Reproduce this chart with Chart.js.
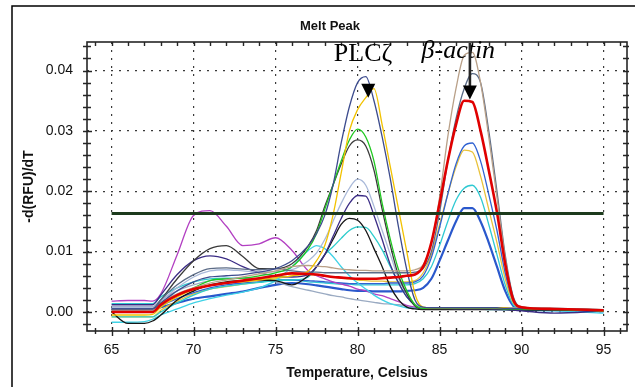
<!DOCTYPE html>
<html lang="en">
<head>
    <meta charset="UTF-8">
    <title>Melt Peak</title>
    <style>
        body {
            margin: 0;
            padding: 0;
            background-color: #ffffff;
        }

        .chart-container {
            width: 635px;
            height: 387px;
            position: relative;
        }
    </style>
    <script src="https://cdn.jsdelivr.net/npm/chart.js"></script>
</head>
<body>
    <div class="chart-container">
        <canvas id="meltChart" width="635" height="387"></canvas>
    </div>

    <script>
        // temperatures (Celsius) shared by every curve
        const temps = [65, 66, 67, 67.5, 68, 69, 70, 71, 72, 73, 74, 75, 76, 77, 77.5,
            78, 78.5, 79, 79.5, 80, 80.5, 81, 81.5, 82, 82.5, 83, 83.5, 84, 84.5, 85,
            85.5, 86, 86.5, 87, 87.5, 88, 88.5, 89, 89.5, 90, 92, 95];

        // -d(RFU)/dT, PLCζ product curves
        const plcNavy = [0.0005, 0.0005, 0.0005, 0.0005, 0.0015, 0.0035, 0.005, 0.0058, 0.006, 0.0062, 0.0066, 0.0072, 0.0085, 0.011, 0.013,
            0.016, 0.021, 0.028, 0.034, 0.038, 0.039, 0.035, 0.029, 0.022, 0.014, 0.007, 0.002, 0.0008, 0.0007, 0.0007,
            0.0007, 0.0007, 0.0007, 0.0007, 0.0007, 0.0007, 0.0007, 0.0006, 0.0006, 0.0006, 0.0005, 0.0003];
        const plcGold = [-0.0005, -0.0005, -0.0005, -0.0004, 0.0008, 0.0025, 0.0037, 0.0044, 0.0048, 0.005, 0.0053, 0.0057, 0.006, 0.0068, 0.0085,
            0.011, 0.016, 0.023, 0.030, 0.0335, 0.0355, 0.037, 0.031, 0.024, 0.017, 0.010, 0.003, 0.0008, 0.0007, 0.0007,
            0.0007, 0.0007, 0.0007, 0.0007, 0.0007, 0.0007, 0.0007, 0.0007, 0.0006, 0.0006, 0.0005, 0.0002];
        const plcGreen = [0.0, 0.0, 0.0, 0.0, 0.0012, 0.0028, 0.004, 0.0052, 0.0055, 0.0056, 0.006, 0.0065, 0.0075, 0.0105, 0.013,
            0.017, 0.021, 0.025, 0.0285, 0.0303, 0.029, 0.025, 0.018, 0.012, 0.007, 0.0035, 0.0012, 0.0006, 0.0006, 0.0006,
            0.0006, 0.0006, 0.0006, 0.0006, 0.0006, 0.0006, 0.0006, 0.0005, 0.0005, 0.0005, 0.0004, 0.0002];
        const plcDarkGray = [0.0004, 0.0004, 0.0004, 0.0005, 0.002, 0.0055, 0.0085, 0.0105, 0.011, 0.0092, 0.0072, 0.0072, 0.008, 0.011, 0.0135,
            0.0175, 0.021, 0.0245, 0.0275, 0.0285, 0.0275, 0.0235, 0.017, 0.011, 0.006, 0.003, 0.001, 0.0005, 0.0005, 0.0005,
            0.0005, 0.0005, 0.0005, 0.0005, 0.0005, 0.0005, 0.0005, 0.0005, 0.0005, 0.0005, 0.0004, 0.0003];
        const plcSteel = [0.0008, 0.0008, 0.0008, 0.0008, 0.0018, 0.004, 0.0058, 0.0068, 0.007, 0.0068, 0.0066, 0.0067, 0.007, 0.0085, 0.0098,
            0.012, 0.015, 0.018, 0.0205, 0.022, 0.021, 0.0175, 0.0135, 0.0095, 0.0055, 0.003, 0.0013, 0.0007, 0.0007, 0.0007,
            0.0007, 0.0007, 0.0007, 0.0007, 0.0007, 0.0007, 0.0007, 0.0007, 0.0007, 0.0006, 0.0006, 0.0004];
        const plcIndigo = [0.0012, 0.0012, 0.0012, 0.0012, 0.0028, 0.0062, 0.0085, 0.0093, 0.0088, 0.0075, 0.0065, 0.006, 0.0058, 0.0062, 0.0075,
            0.0095, 0.0125, 0.0155, 0.018, 0.0193, 0.0192, 0.016, 0.012, 0.0078, 0.0048, 0.0025, 0.0012, 0.0006, 0.0006, 0.0006,
            0.0006, 0.0005, 0.0005, 0.0005, 0.0005, 0.0005, 0.0004, 0.0004, 0.0003, 0.0002, -0.0002, 0.0002];
        const plcBlack = [0.0, -0.0019, -0.0019, -0.0015, -0.0005, 0.002, 0.0035, 0.0045, 0.005, 0.0052, 0.0053, 0.0052, 0.0045, 0.006, 0.0075,
            0.0095, 0.012, 0.0145, 0.0155, 0.0152, 0.0135, 0.0105, 0.0075, 0.0042, 0.002, 0.0008, 0.0005, 0.0004, 0.0004, 0.0004,
            0.0004, 0.0004, 0.0004, 0.0004, 0.0004, 0.0004, 0.0004, 0.0004, 0.0003, 0.0003, 0.0003, 0.0002];
        const plcCyan = [-0.0008, -0.0008, -0.0008, -0.0008, 0.0, 0.0015, 0.0028, 0.0038, 0.0043, 0.0046, 0.0049, 0.0052, 0.0053, 0.0058, 0.0075,
            0.0095, 0.0108, 0.0122, 0.0135, 0.0141, 0.014, 0.0125, 0.0103, 0.0075, 0.0048, 0.0025, 0.0011, 0.0005, 0.0005, 0.0005,
            0.0005, 0.0005, 0.0005, 0.0005, 0.0005, 0.0005, 0.0005, 0.0004, 0.0004, 0.0004, 0.0004, 0.0001];
        const lowCyan = [-0.0017, -0.0017, -0.0016, -0.0012, -0.0005, 0.0005, 0.0015, 0.0022, 0.0028, 0.0033, 0.004, 0.0052, 0.0075, 0.0102, 0.011,
            0.0105, 0.0092, 0.0075, 0.006, 0.0048, 0.0038, 0.0028, 0.002, 0.0014, 0.001, 0.0007, 0.0006, 0.0005, 0.0005, 0.0005,
            0.0005, 0.0005, 0.0005, 0.0005, 0.0005, 0.0004, 0.0004, 0.0004, 0.0004, 0.0003, 0.0002, -0.0002];
        const dimerMagenta = [0.0018, 0.0019, 0.0019, 0.0018, 0.003, 0.0095, 0.016, 0.0168, 0.0142, 0.011, 0.0113, 0.0123, 0.0102, 0.0068, 0.006,
            0.0055, 0.005, 0.0046, 0.0043, 0.0038, 0.0035, 0.003, 0.0027, 0.0022, 0.0017, 0.0011, 0.0008, 0.0006, 0.0006, 0.0006,
            0.0006, 0.0006, 0.0006, 0.0006, 0.0006, 0.0006, 0.0006, 0.0006, 0.0005, 0.0005, 0.0005, 0.0003];
        const lowGray = [0.0009, 0.0009, 0.0009, 0.0009, 0.002, 0.0035, 0.0045, 0.0052, 0.0055, 0.0056, 0.0055, 0.005, 0.0042, 0.0036, 0.0033,
            0.003, 0.0027, 0.0025, 0.0022, 0.002, 0.0018, 0.0016, 0.0014, 0.0013, 0.0012, 0.0009, 0.0007, 0.0006, 0.0006, 0.0006,
            0.0006, 0.0006, 0.0006, 0.0006, 0.0006, 0.0006, 0.0006, 0.0005, 0.0005, 0.0005, 0.0005, 0.0003];

        // -d(RFU)/dT, beta-actin product curves
        const actTan = [0.0003, 0.0003, 0.0003, 0.0003, 0.0015, 0.003, 0.004, 0.0048, 0.0053, 0.0058, 0.0063, 0.0068, 0.0075, 0.0077, 0.0076,
            0.0075, 0.0073, 0.0071, 0.007, 0.0069, 0.0069, 0.0068, 0.0068, 0.0068, 0.0068, 0.0068, 0.007, 0.0078, 0.0115, 0.019,
            0.029, 0.037, 0.0425, 0.043, 0.038, 0.029, 0.019, 0.009, 0.002, 0.0009, 0.0006, 0.0004];
        const actSlate = [0.0005, 0.0005, 0.0005, 0.0005, 0.002, 0.0045, 0.0062, 0.0072, 0.0073, 0.0071, 0.007, 0.0072, 0.0068, 0.0066, 0.0066,
            0.0065, 0.0065, 0.0065, 0.0065, 0.0065, 0.0065, 0.0065, 0.0065, 0.0065, 0.0065, 0.0065, 0.0066, 0.0072, 0.010, 0.0165,
            0.025, 0.032, 0.037, 0.0395, 0.038, 0.030, 0.020, 0.0095, 0.0025, 0.0008, 0.0006, 0.0004];
        const actRed = [0.0, 0.0, 0.0, 0.0, 0.0012, 0.0028, 0.0038, 0.0044, 0.0048, 0.0052, 0.0056, 0.006, 0.0064, 0.0063, 0.0062,
            0.006, 0.0058, 0.0057, 0.0056, 0.0055, 0.0055, 0.0055, 0.0056, 0.0057, 0.0058, 0.006, 0.0062, 0.0075, 0.0115, 0.018,
            0.025, 0.031, 0.035, 0.0348, 0.030, 0.0235, 0.0165, 0.008, 0.002, 0.0008, 0.0005, 0.0003];
        const actBlue = [0.0003, 0.0003, 0.0003, 0.0003, 0.001, 0.0022, 0.0032, 0.004, 0.0045, 0.0048, 0.005, 0.0052, 0.0053, 0.0052, 0.0051,
            0.005, 0.0049, 0.0048, 0.0047, 0.0047, 0.0047, 0.0047, 0.0047, 0.0048, 0.0048, 0.0048, 0.005, 0.006, 0.009, 0.014,
            0.0195, 0.0245, 0.0275, 0.028, 0.025, 0.0195, 0.0135, 0.0065, 0.0018, 0.0007, 0.0005, 0.0003];
        const actYellow = [-0.0008, -0.0008, -0.0008, -0.0008, 0.0003, 0.0018, 0.003, 0.0038, 0.0042, 0.0046, 0.005, 0.0055, 0.006, 0.0062, 0.0061,
            0.006, 0.0058, 0.0056, 0.0055, 0.0053, 0.0052, 0.0051, 0.0051, 0.005, 0.005, 0.005, 0.0052, 0.0065, 0.0095, 0.0145,
            0.0195, 0.024, 0.0268, 0.0265, 0.0225, 0.017, 0.0115, 0.0055, 0.0015, 0.0007, 0.0005, 0.0001];
        const actCyan = [0.0014, 0.0014, 0.0014, 0.0014, 0.0025, 0.004, 0.005, 0.0055, 0.0056, 0.0056, 0.0055, 0.0054, 0.0053, 0.005, 0.0049,
            0.0048, 0.0047, 0.0046, 0.0046, 0.0045, 0.0045, 0.0045, 0.0045, 0.0045, 0.0045, 0.0045, 0.0047, 0.0055, 0.0075, 0.011,
            0.015, 0.0185, 0.0205, 0.021, 0.019, 0.0145, 0.0095, 0.0045, 0.0012, 0.0006, 0.0004, 0.0002];
        const actLowBlue = [0.0005, 0.0005, 0.0005, 0.0005, 0.0008, 0.0015, 0.0022, 0.0026, 0.003, 0.0034, 0.004, 0.0045, 0.0048, 0.0046, 0.0044,
            0.0042, 0.004, 0.0038, 0.0036, 0.0035, 0.0035, 0.0034, 0.0034, 0.0034, 0.0034, 0.0035, 0.0036, 0.004, 0.0055, 0.0085,
            0.0118, 0.015, 0.0172, 0.0172, 0.015, 0.0115, 0.0075, 0.0035, 0.001, 0.0005, 0.0003, 0.0001];

        // threshold line
        const thresholdLevel = 0.0163;
        const thresholdSpan = [65, 95];

        // axis ticks
        const xTicks = [65, 70, 75, 80, 85, 90, 95];
        const yTicks = [0.00, 0.01, 0.02, 0.03, 0.04];

        const curves = [
            { values: actRed, color: '#e00000', width: 2.6 },
            { values: plcNavy, color: '#3d4c8e', width: 1.3 },
            { values: plcGold, color: '#f2c200', width: 1.3 },
            { values: actTan, color: '#b9a088', width: 1.3 },
            { values: actSlate, color: '#5b6b86', width: 1.3 },
            { values: plcGreen, color: '#1fc81f', width: 1.3 },
            { values: plcDarkGray, color: '#3a3a3a', width: 1.3 },
            { values: plcSteel, color: '#a9b9d9', width: 1.3 },
            { values: plcIndigo, color: '#3b2c85', width: 1.3 },
            { values: plcBlack, color: '#161616', width: 1.3 },
            { values: plcCyan, color: '#2ccccc', width: 1.3 },
            { values: lowCyan, color: '#3fd2e6', width: 1.3 },
            { values: dimerMagenta, color: '#b23fc2', width: 1.3 },
            { values: lowGray, color: '#9aaac2', width: 1.3 },
            { values: actBlue, color: '#3062d2', width: 1.3 },
            { values: actYellow, color: '#e9c23a', width: 1.3 },
            { values: actCyan, color: '#2fc9d2', width: 1.3 },
            { values: actLowBlue, color: '#2a58cc', width: 2.2 }
        ];

        const datasets = [{
            data: thresholdSpan.map(t => ({ x: t, y: thresholdLevel })),
            borderColor: '#1c3a1c',
            borderWidth: 3,
            pointRadius: 0
        }];
        curves.forEach(c => {
            datasets.push({
                data: temps.map((t, i) => ({ x: t, y: c.values[i] })),
                borderColor: c.color,
                borderWidth: c.width,
                pointRadius: 0,
                cubicInterpolationMode: 'monotone'
            });
        });

        const textFont = "'Liberation Sans', Arial, sans-serif";
        const serifFont = "'Liberation Serif', 'Times New Roman', serif";

        // frame, minor ticks, title and the two labelled arrows
        const decorations = {
            id: 'decorations',
            beforeDraw(chart) {
                const ctx = chart.ctx;
                ctx.save();
                ctx.fillStyle = '#ffffff';
                ctx.fillRect(0, 0, chart.width, chart.height);
                ctx.restore();
            },
            afterDraw(chart) {
                const { ctx, chartArea: a, scales: { x, y } } = chart;
                ctx.save();

                // outer frame (left and top only)
                ctx.strokeStyle = '#000';
                ctx.lineWidth = 1.5;
                ctx.beginPath();
                ctx.moveTo(12, chart.height);
                ctx.lineTo(12, 6);
                ctx.lineTo(chart.width, 6);
                ctx.stroke();

                // plot box
                ctx.strokeStyle = '#262626';
                ctx.lineWidth = 1.6;
                ctx.strokeRect(a.left, a.top, a.right - a.left, a.bottom - a.top);

                // tick marks on all four sides
                ctx.lineWidth = 1.4;
                ctx.beginPath();
                for (let t = Math.ceil(x.min); t <= x.max; t++) {
                    const px = Math.round(x.getPixelForValue(t)) + 0.5;
                    const major = t % 5 === 0;
                    ctx.moveTo(px, a.bottom - (major ? 4 : 3));
                    ctx.lineTo(px, a.bottom + (major ? 5 : 3));
                    ctx.moveTo(px, a.top);
                    ctx.lineTo(px, a.top + 4);
                }
                for (let k = Math.ceil(y.min / 0.002); k * 0.002 <= y.max; k++) {
                    const py = Math.round(y.getPixelForValue(k * 0.002)) + 0.5;
                    const major = k % 5 === 0;
                    ctx.moveTo(a.left - 4, py);
                    ctx.lineTo(a.left + (major ? 5 : 4), py);
                    ctx.moveTo(a.right - 4, py);
                    ctx.lineTo(a.right + 2, py);
                }
                ctx.stroke();

                // chart title
                ctx.fillStyle = '#111';
                ctx.font = 'bold 13px ' + textFont;
                ctx.textAlign = 'center';
                ctx.textBaseline = 'middle';
                ctx.fillText('Melt Peak', 330, 26);

                // product labels
                ctx.textAlign = 'left';
                ctx.textBaseline = 'alphabetic';
                ctx.fillStyle = '#000';
                ctx.font = '26px ' + serifFont;
                ctx.fillText('PLCζ', x.getPixelForValue(78.55), 61);
                ctx.font = 'italic 26px ' + serifFont;
                ctx.fillText('β-actin', x.getPixelForValue(83.9), 58);

                // arrows
                const arrowHead = (tx, ty) => {
                    ctx.beginPath();
                    ctx.moveTo(tx, ty);
                    ctx.lineTo(tx - 7, ty - 14);
                    ctx.lineTo(tx + 7, ty - 14);
                    ctx.closePath();
                    ctx.fill();
                };
                const plcX = x.getPixelForValue(80.65);
                arrowHead(plcX, y.getPixelForValue(0.0355));
                const actX = x.getPixelForValue(86.85);
                const actTip = y.getPixelForValue(0.0352);
                ctx.lineWidth = 2.6;
                ctx.beginPath();
                ctx.moveTo(actX, a.top + 1);
                ctx.lineTo(actX, actTip - 12);
                ctx.stroke();
                arrowHead(actX, actTip);

                ctx.restore();
            }
        };

        const ctx = document.getElementById('meltChart').getContext('2d');

        new Chart(ctx, {
            type: 'line',
            data: { datasets: datasets },
            options: {
                responsive: false,
                animation: false,
                layout: {
                    padding: { top: 42, right: 8, left: 0, bottom: 0 }
                },
                plugins: {
                    legend: { display: false },
                    tooltip: { enabled: false },
                    title: { display: false }
                },
                scales: {
                    x: {
                        type: 'linear',
                        min: 63.5,
                        max: 96.43,
                        afterFit: scale => { scale.height = 56; },
                        afterBuildTicks: scale => {
                            scale.ticks = xTicks.map(v => ({ value: v }));
                        },
                        ticks: {
                            padding: 11,
                            color: '#111',
                            font: { family: textFont, size: 14 },
                            callback: v => String(v)
                        },
                        grid: {
                            color: '#3a3a3a',
                            lineWidth: 1.2,
                            drawTicks: false
                        },
                        border: { display: false, dash: [2, 6] },
                        title: {
                            display: true,
                            text: 'Temperature, Celsius',
                            color: '#111',
                            font: { family: textFont, size: 14, weight: 'bold' },
                            padding: { top: 0, bottom: 5.6 }
                        }
                    },
                    y: {
                        type: 'linear',
                        min: -0.00315,
                        max: 0.04473,
                        afterFit: scale => { scale.width = 87; },
                        afterBuildTicks: scale => {
                            scale.ticks = yTicks.map(v => ({ value: v }));
                        },
                        ticks: {
                            padding: 14,
                            color: '#111',
                            font: { family: textFont, size: 14 },
                            callback: v => v.toFixed(2)
                        },
                        grid: {
                            color: '#3a3a3a',
                            lineWidth: 1.2,
                            drawTicks: false
                        },
                        border: { display: false, dash: [2, 6] },
                        title: {
                            display: true,
                            text: '-d(RFU)/dT',
                            color: '#111',
                            font: { family: textFont, size: 14, weight: 'bold' },
                            padding: { top: 20.6, bottom: 0 }
                        }
                    }
                }
            },
            plugins: [decorations]
        });
    </script>
</body>
</html>
